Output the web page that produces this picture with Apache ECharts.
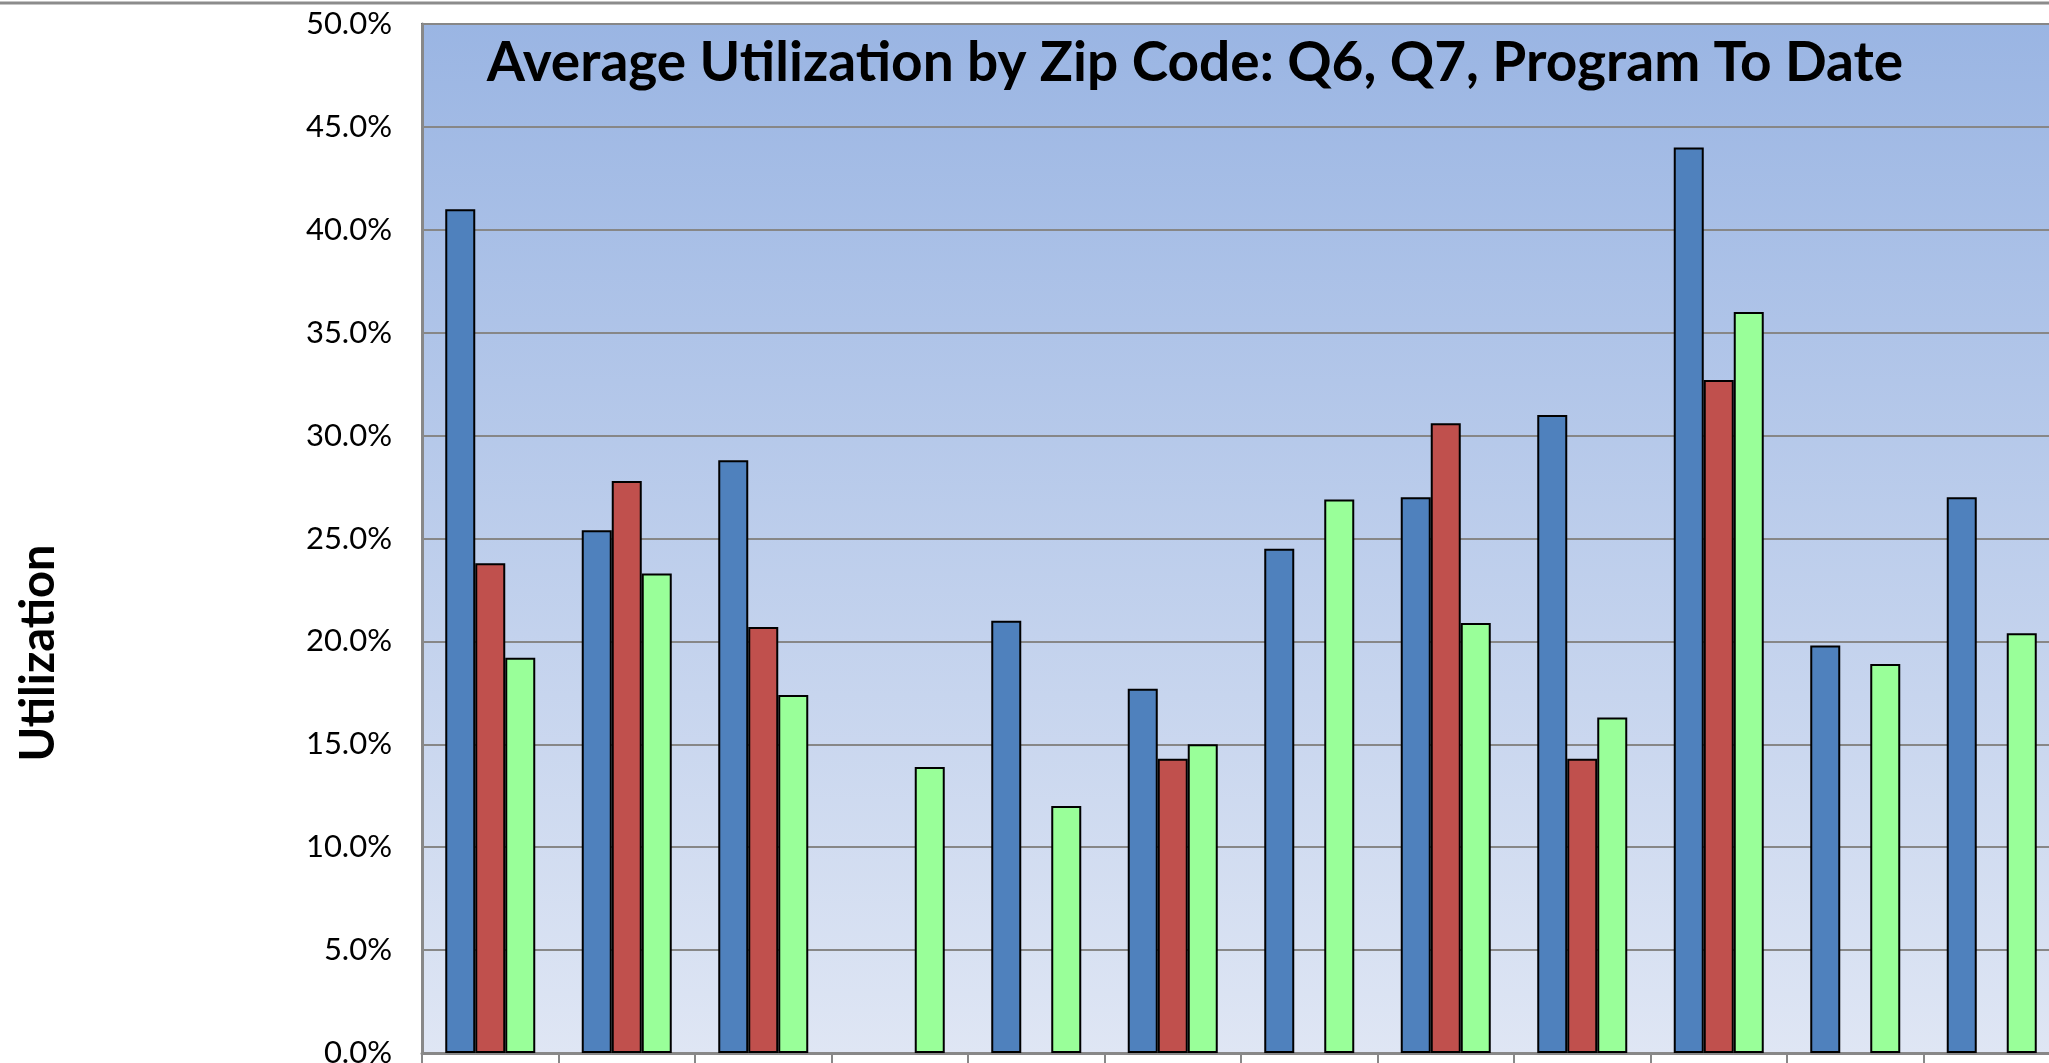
<!DOCTYPE html>
<html>
<head>
<meta charset="utf-8">
<title>Average Utilization by Zip Code</title>
<script src="https://cdn.jsdelivr.net/npm/echarts@6/dist/echarts.min.js"></script>
<style>
  html, body { margin: 0; padding: 0; background: #fff; }
  #chart { width: 2049px; height: 1063px; }
</style>
</head>
<body>
<div id="chart"></div>
<script>
// zip code groups (their labels sit below the visible area)
const zipCodes = ['Zip 1', 'Zip 2', 'Zip 3', 'Zip 4', 'Zip 5', 'Zip 6',
  'Zip 7', 'Zip 8', 'Zip 9', 'Zip 10', 'Zip 11', 'Zip 12']

// average utilization, percent (null = no bar)
const q6 = [41.0, 25.4, 28.8, null, 21.0, 17.7, 24.5, 27.0, 31.0, 44.0, 19.8, 27.0]
const q7 = [23.8, 27.8, 20.7, null, null, 14.3, null, 30.6, 14.3, 32.7, null, null]
const programToDate = [19.2, 23.3, 17.4, 13.9, 12.0, 15.0, 26.9, 20.9, 16.3, 36.0, 18.9, 20.4]

const yTicks = { min: 0, max: 50, step: 5 }

const chart = echarts.init(document.getElementById('chart'))

const barStyle = (color) => ({ color, borderColor: '#000', borderWidth: 2 })

chart.setOption({
  animation: false,
  backgroundColor: '#fff',
  textStyle: { fontFamily: 'Lato' },
  graphic: [
    // outer chart border line along the top edge
    { type: 'line', shape: { x1: 0, y1: 3, x2: 2049, y2: 3 },
      style: { stroke: '#8c8c8c', lineWidth: 3 }, z: 10 },
    { type: 'text', x: 1195, y: 63, z: 10,
      style: {
        text: 'Average Utilization by Zip Code: Q6, Q7, Program To Date',
        font: 'bold 55px Lato', fill: '#000',
        textAlign: 'center', textVerticalAlign: 'middle'
      } },
    // value axis title
    { type: 'text', x: 62, y: 653, rotation: Math.PI / 2, z: 10,
      style: {
        text: 'Utilization',
        font: 'bold 47px Lato', fill: '#000',
        textAlign: 'center', textVerticalAlign: 'bottom'
      } }
  ],
  grid: {
    left: 422, top: 24, width: 1638, height: 1029,
    show: true,
    borderColor: '#000', borderWidth: 2,
    backgroundColor: {
      type: 'linear', x: 0, y: 0, x2: 0, y2: 1,
      colorStops: [
        { offset: 0, color: '#9ab5e3' },
        { offset: 1, color: '#dfe6f4' }
      ]
    },
    outerBoundsMode: 'none'
  },
  xAxis: {
    type: 'category',
    data: zipCodes,
    axisLine: { lineStyle: { color: '#888', width: 3 } },
    axisTick: { show: true, interval: 0, length: 10, lineStyle: { color: '#888', width: 2 } },
    axisLabel: { show: false }
  },
  yAxis: {
    type: 'value',
    min: yTicks.min, max: yTicks.max, interval: yTicks.step,
    axisLine: { show: true, lineStyle: { color: '#888', width: 3 } },
    axisTick: { show: false },
    axisLabel: {
      margin: 30, fontSize: 31, color: '#000', fontFamily: 'Lato',
      formatter: (v) => v.toFixed(1) + '%'
    },
    splitLine: { lineStyle: { color: '#878787', width: 2 } }
  },
  series: [
    { name: 'Q6', type: 'bar', data: q6, barWidth: 30, barGap: '0%', itemStyle: barStyle('#4f81bd') },
    { name: 'Q7', type: 'bar', data: q7, barWidth: 30, barGap: '0%', itemStyle: barStyle('#c0504d') },
    { name: 'Program To Date', type: 'bar', data: programToDate, barWidth: 30, barGap: '0%', itemStyle: barStyle('#99ff99') }
  ]
})
</script>
</body>
</html>
